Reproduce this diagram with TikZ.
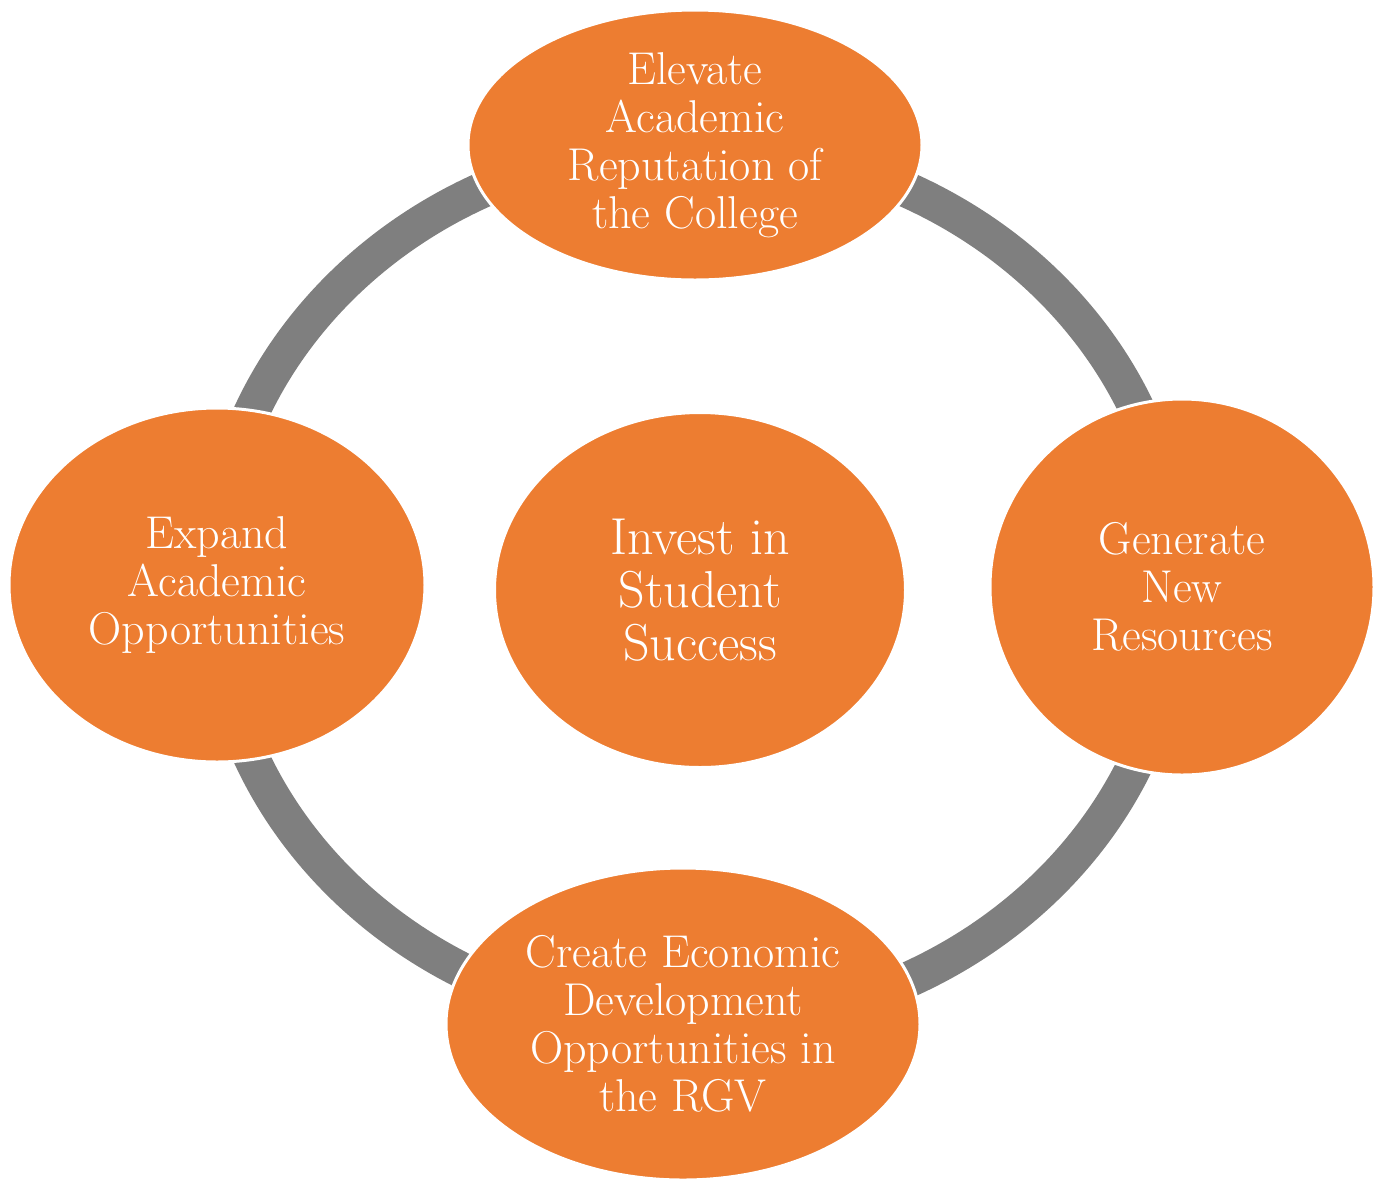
\documentclass[tikz,border=0pt]{standalone}
\usepackage{tikz}
\usetikzlibrary{shapes.geometric, positioning}
\definecolor{goalorange}{HTML}{ED7D31}
\definecolor{ringgray}{HTML}{7F7F7F}

\begin{document}
\begin{tikzpicture}[x=0.5pt, y=-0.5pt,
    goal/.style={ellipse, draw=white, line width=1.5pt, fill=goalorange, text=white,
      inner sep=0pt, align=center, font=\fontsize{23}{24}\selectfont},
    ring/.style={draw=ringgray, line width=18pt}]
    \useasboundingbox (0,0) rectangle (1382,1180);
    \coordinate (hub) at (695,585);
    \draw[ring] (hub) ellipse [x radius=482, y radius=440];
    \node[goal, minimum width=227pt, minimum height=135pt] (elevate) at (695,145) {Elevate\\Academic\\Reputation of\\the College};
    \node[goal, minimum width=208pt, minimum height=177pt] (expand) at (217,585) {Expand\\Academic\\Opportunities};
    \node[goal, minimum width=205.5pt, minimum height=177.5pt, font=\fontsize{26}{26.5}\selectfont] (invest) at (700,590) {Invest in\\Student\\Success};
    \node[goal, minimum width=192pt, minimum height=188pt] (generate) at (1182,587) {Generate\\New\\Resources};
    \node[goal, minimum width=237pt, minimum height=156pt] (create) at (683,1024) {Create Economic\\Development\\Opportunities in\\the RGV};
  \end{tikzpicture}
\end{document}
